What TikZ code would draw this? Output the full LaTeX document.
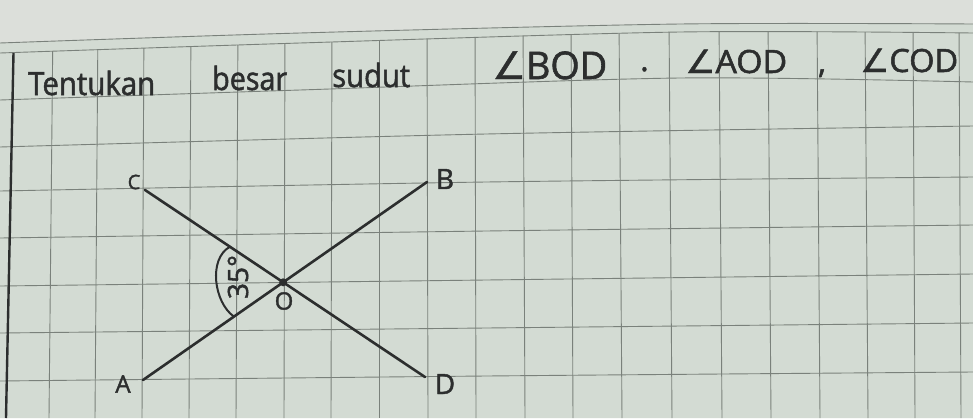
\documentclass[tikz,border=0pt]{standalone}
\usepackage{fontspec}
\usepackage{graphicx}
\setmainfont{Open Sans}[FakeBold=1.6]
\newfontfamily\symf{DejaVu Sans}[FakeBold=1.2]
\usetikzlibrary{calc}
\definecolor{paper}{RGB}{211,219,211}
\definecolor{pagebg}{RGB}{220,223,218}
\definecolor{gridc}{RGB}{122,129,123}
\definecolor{ink}{RGB}{44,46,46}
\newcommand{\fitw}[2]{\resizebox{#1pt}{\height}{#2}}
\begin{document}
\begin{tikzpicture}[x=1pt,y=-1pt,
  gridline/.style={draw=gridc,line width=0.9pt},
  pen/.style={draw=ink,line width=2.6pt,line cap=round},
  hand/.style={text=ink,inner sep=0pt,anchor=base west,font=\fontsize{#1}{#1}\selectfont},
  hand/.default=32,
  ptlabel/.style={text=ink,inner sep=0pt,font=\fontsize{#1}{#1}\selectfont},
  ptlabel/.default=24]
\useasboundingbox (0,0) rectangle (973,418);
\fill[pagebg] (0,0) rectangle (973,418);
% paper below the page edge
\fill[paper] plot[smooth] coordinates {(0,43) (300,33) (680,24) (973,24)} -- (973,418) -- (0,418) -- cycle;
\draw[gridline] plot[smooth] coordinates {(0,43) (300,33) (680,24) (973,24)};
% vertical grid lines, below the first grid row
\begin{scope}
  \clip plot[smooth] coordinates {(0,53) (300,43) (680,32) (973,33)} -- (973,418) -- (0,418) -- cycle;
  \foreach \t/\b in {53/49,98/95,144/142,191/189,238/236,285/284,332/331,379/379,427/428,475/476,523/525,571/573,619/622,669/672,719/722,768/771,817/820,865/868,913/915,959/961}
    \draw[gridline] (\t,20) -- (\b,418);
\end{scope}
% horizontal grid lines
\draw[gridline] plot[smooth] coordinates {(0,53) (300,43) (680,32) (973,33)};
\draw[gridline] plot[smooth] coordinates {(0,100) (300,90) (680,78) (973,82)};
\foreach \l/\m/\r in {147/134/126,191/182/177,238/231/225,286/280/274,333/328/323,381/376/372}
  \draw[gridline] plot[smooth] coordinates {(0,\l) (486,\m) (973,\r)};
% margin line
\draw[ink,line width=2.4pt] (13.5,53) -- (6,418);

% heading
\node[hand] (w1) at (28,95) {\fitw{127}{Tentukan}};
\node[hand] (w2) at (212,90) {\fitw{75}{besar}};
\node[hand] (w3) at (332,87) {\fitw{78}{sudut}};
\node[hand=38] (w4) at (492,79) {\fitw{115}{{\symf ∠}BOD}};
\node[hand] (p1) at (640,71) {.};
\node[hand=32] (w5) at (685,73) {\fitw{102}{{\symf ∠}AOD}};
\node[hand] (p2) at (818,73) {,};
\node[hand=32] (w6) at (860,72) {\fitw{98}{{\symf ∠}COD}};

% figure
\coordinate (A) at (143,380);
\coordinate (B) at (427,182);
\coordinate (C) at (145,190);
\coordinate (D) at (425,377);
\coordinate (O) at (intersection of C--D and A--B);
\draw[pen] (C) -- (D);
\draw[pen] (A) -- (B);
\fill[ink] (O) circle (4);
\coordinate (a1) at ($(O)!64pt!(C)$);
\coordinate (a2) at ($(O)!60pt!(A)$);
\draw[ink,line width=2pt] (a1) .. controls ($(a1)+(-22,12)$) and ($(a2)+(-20,-14)$) .. (a2);

\node[ptlabel=20] (lC) at (134,182) {C};
\node[ptlabel=28] (lB) at (445,179) {B};
\node[ptlabel=24] (lA) at (123,384) {A};
\node[ptlabel=28] (lD) at (445,384) {D};
\node[ptlabel=24] (lO) at (284,301) {O};
\node[ptlabel=28,rotate=90] (lang) at (238,277) {35°};
\end{tikzpicture}
\end{document}
